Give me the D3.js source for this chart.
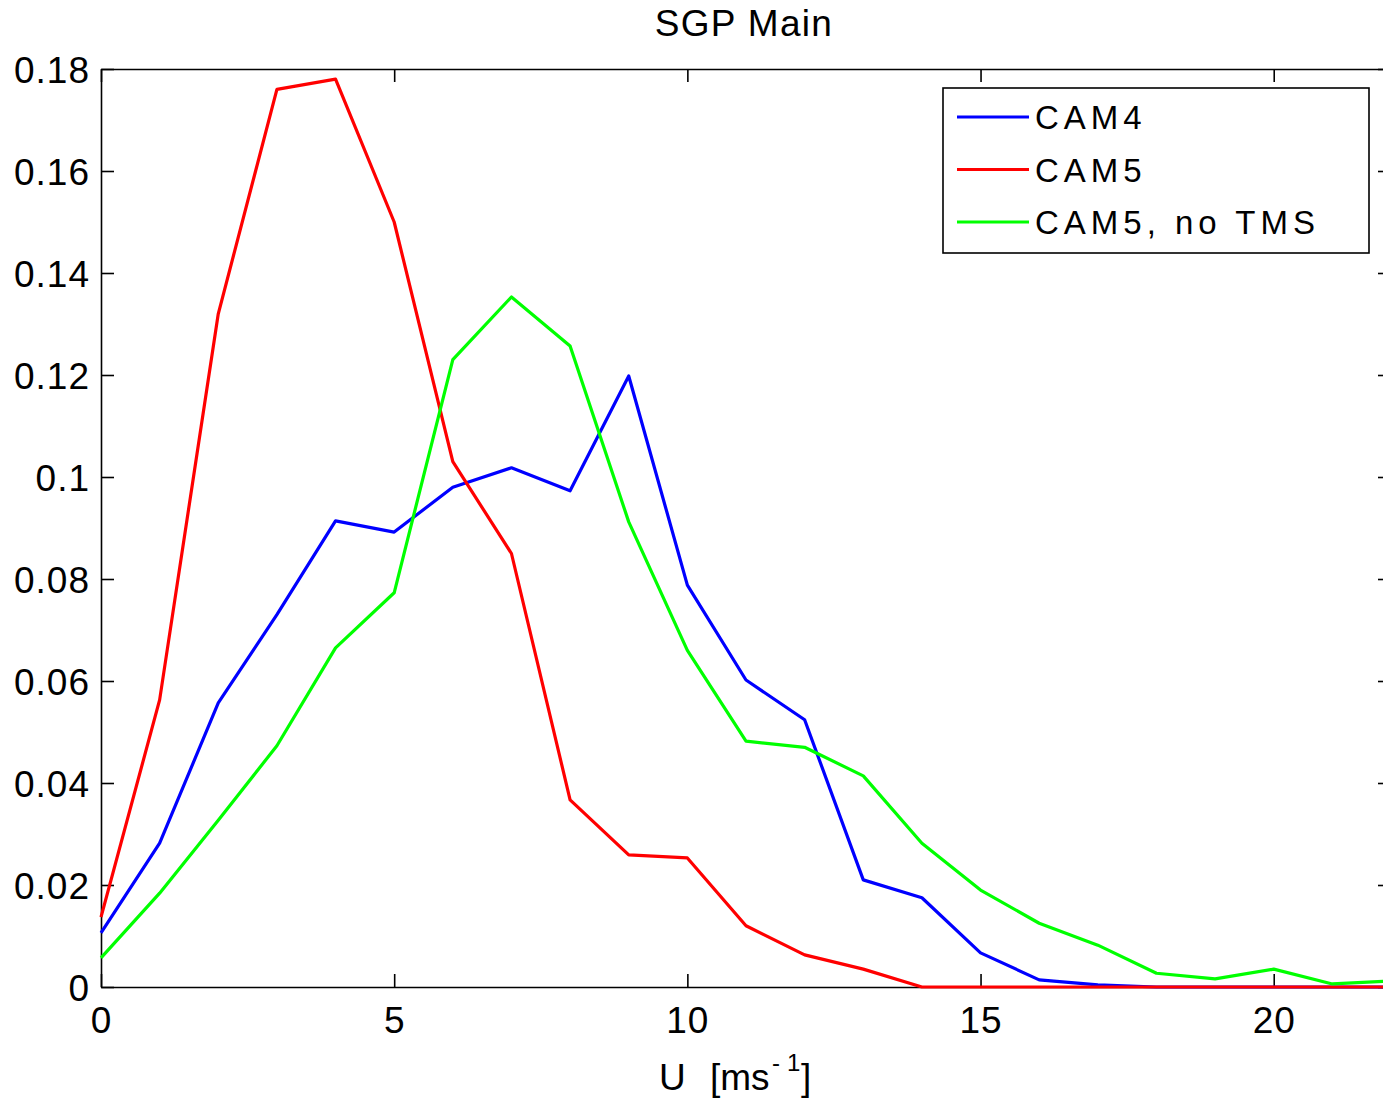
<!DOCTYPE html>
<html>
<head>
<meta charset="utf-8">
<script src="https://cdn.jsdelivr.net/npm/d3@7"></script>
<style>
  body { margin: 0; background: #fff; }
  text { font-family: "Liberation Sans", Arial, Helvetica, sans-serif; fill: #000; }
</style>
</head>
<body>
<script>
// wind speed bins
const speeds = [0,1,2,3,4,5,6,7,8,9,10,11,12,13,14,15,16,17,18,19,20,21,22];

// frequency for each model run
const cam4 = [0.0106,0.0282,0.0557,0.0730,0.0914,0.0892,0.0980,0.1018,0.0973,0.1198,0.0788,0.0602,0.0524,0.0210,0.0175,0.0067,0.0014,0.0004,0,0,0,0,0];
const cam5 = [0.0137,0.0563,0.1320,0.1760,0.1780,0.1500,0.1030,0.0850,0.0367,0.0259,0.0253,0.0120,0.0063,0.0035,0,0,0,0,0,0,0,0,0];
const cam5NoTms = [0.0057,0.0184,0.0327,0.0473,0.0665,0.0773,0.1230,0.1353,0.1257,0.0912,0.0660,0.0482,0.0470,0.0414,0.0282,0.0190,0.0125,0.0082,0.0027,0.0016,0.0035,0.0006,0.0012];

const seriesNames = ["CAM4", "CAM5", "CAM5, no TMS"];
const seriesColors = ["#0000ff", "#ff0000", "#00ff00"];
const seriesValues = [cam4, cam5, cam5NoTms];

const xTicks = [0, 5, 10, 15, 20];
const yTicks = [0, 0.02, 0.04, 0.06, 0.08, 0.1, 0.12, 0.14, 0.16, 0.18];

// set the dimensions and margins
const margin = {top: 69, left: 101};
const width = 1290;
const height = 918;
const tickLen = 13;

const svg = d3.select("body").append("svg")
  .attr("width", 1383)
  .attr("height", 1101);
const g = svg.append("g")
  .attr("transform", "translate(" + margin.left + "," + margin.top + ")");

const x = d3.scaleLinear().domain([0, 22]).range([0, width]);
const y = d3.scaleLinear().domain([0, 0.18]).range([height, 0]);

// axes with inward ticks
const fmtY = d => d === 0 ? "0" : String(+d.toFixed(2));

const axBottom = g.append("g")
  .attr("transform", "translate(0," + height + ")")
  .call(d3.axisBottom(x).tickValues(xTicks).tickSizeInner(-tickLen).tickSizeOuter(0).tickPadding(20).tickFormat(d3.format("d")));
const axLeft = g.append("g")
  .call(d3.axisLeft(y).tickValues(yTicks).tickSizeInner(-tickLen).tickSizeOuter(0).tickPadding(11).tickFormat(fmtY));
const axTop = g.append("g")
  .call(d3.axisTop(x).tickValues(xTicks).tickSizeInner(-tickLen).tickSizeOuter(0).tickFormat(""));
const axRight = g.append("g")
  .attr("transform", "translate(" + width + ",0)")
  .call(d3.axisRight(y).tickValues(yTicks).tickSizeInner(-tickLen).tickSizeOuter(0).tickFormat(""));

[axBottom, axLeft, axTop, axRight].forEach(a => {
  a.selectAll("path").attr("stroke", "#000").attr("stroke-width", 1.6);
  a.selectAll("line").attr("stroke", "#000").attr("stroke-width", 1.6);
  a.selectAll("text").style("font-size", "37px").style("letter-spacing", "1px")
    .style("font-family", "Liberation Sans, Arial, sans-serif").attr("fill", "#000");
});
axBottom.selectAll("text").attr("dy", "0.71em");
axLeft.selectAll("text").attr("dy", "0.36em");

// the lines
const line = d3.line()
  .x((d, i) => x(speeds[i]))
  .y(d => y(d));

seriesValues.forEach((vals, k) => {
  g.append("path")
    .datum(vals)
    .attr("fill", "none")
    .attr("stroke", seriesColors[k])
    .attr("stroke-width", 3.2)
    .attr("stroke-linejoin", "round")
    .attr("d", line);
});

// title
svg.append("text")
  .attr("x", 744)
  .attr("y", 36)
  .attr("text-anchor", "middle")
  .style("font-size", "37px")
  .style("letter-spacing", "1.3px")
  .text("SGP Main");

// x label with superscript
const xl = svg.append("text")
  .attr("y", 1090)
  .style("font-size", "37px");
xl.append("tspan").attr("x", 659).text("U");
xl.append("tspan").attr("x", 710).text("[ms");
xl.append("tspan").attr("x", 772).attr("dy", -19).style("font-size", "24px").text("-");
xl.append("tspan").attr("x", 787).style("font-size", "24px").text("1");
xl.append("tspan").attr("x", 801).attr("dy", 19).text("]");

// legend
const legend = svg.append("g").attr("transform", "translate(943,88)");
legend.append("rect")
  .attr("width", 426)
  .attr("height", 165)
  .attr("fill", "#fff")
  .attr("stroke", "#000")
  .attr("stroke-width", 1.6);
seriesNames.forEach((name, k) => {
  const ly = 29 + k * 52.5;
  legend.append("line")
    .attr("x1", 14).attr("x2", 86)
    .attr("y1", ly).attr("y2", ly)
    .attr("stroke", seriesColors[k])
    .attr("stroke-width", 3);
  legend.append("text")
    .attr("x", 92)
    .attr("y", ly + 12)
    .style("font-size", "33px")
    .style("letter-spacing", "5px")
    .text(name);
});
</script>
</body>
</html>
